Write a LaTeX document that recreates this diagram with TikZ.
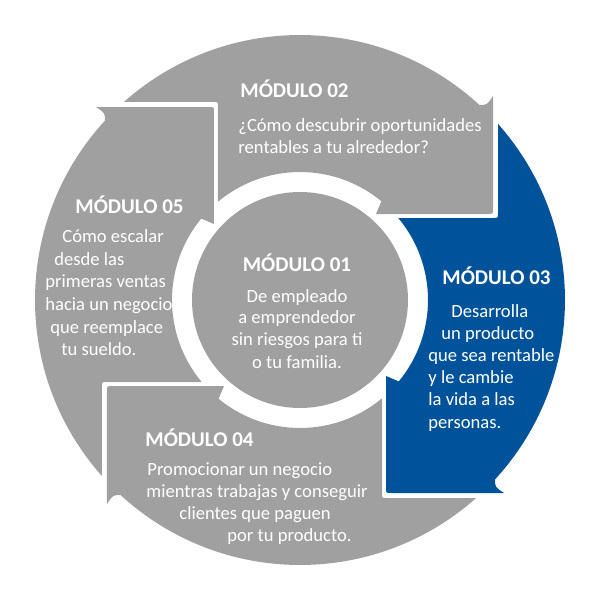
\documentclass[tikz,border=0pt]{standalone}
\usepackage{fontspec}
\setmainfont{Carlito}
\definecolor{seggray}{RGB}{160,160,160}
\definecolor{segblue}{RGB}{0,83,155}
\begin{document}
\begin{tikzpicture}[x=0.5pt,y=0.5pt,
  hd/.style={text=white, font=\bfseries\fontsize{10.5}{12}\selectfont, inner sep=0pt, anchor=base west},
  bd/.style={text=white, font=\fontsize{9.3}{11}\selectfont, inner sep=0pt, anchor=base west},
  bdc/.style={bd, anchor=base},
  hdc/.style={hd, anchor=base}]
\fill[white] (-300,-300) rectangle (300,300);
% ring segments (top one rotated clockwise)
\foreach \ang/\col in {0/seggray,-90/segblue,-180/seggray,-270/seggray}{
  \fill[\col, rotate=\ang]
    (131.65:265) -- (-87,198) .. controls (-82,198) .. (-82,193) -- (-82,98.3)
    arc[start angle=129.83, end angle=50.5, radius=128]
    -- (76,86) -- (188,86) .. controls (193,86) .. (193,91) -- (193,204)
    .. controls (187,195) .. (47.4:265)
    arc[start angle=47.4, end angle=131.65, radius=265] -- cycle;
}
% centre circle
\fill[seggray] (0,0) circle (108);
% Module 01
\node[hdc] (h1) at (-3,29) {MÓDULO 01};
\node[bdc] (t1a) at (-3,-2) {De empleado};
\node[bdc] (t1b) at (-3,-23) {a emprendedor};
\node[bdc] (t1c) at (-3,-45) {sin riesgos para ti};
\node[bdc] (t1d) at (-3,-68) {o tu familia.};
% Module 02
\node[hd] (h2) at (-60,202) {MÓDULO 02};
\node[bd] (t2a) at (-62,169) {¿Cómo descubrir oportunidades};
\node[bd] (t2b) at (-62,147) {rentables a tu alrededor?};
% Module 03
\node[hd] (h3) at (142,16) {MÓDULO 03};
\node[bd] (t3a) at (151,-17) {Desarrolla};
\node[bd] (t3b) at (141,-39.2) {un producto};
\node[bd] (t3c) at (128,-61.4) {que sea rentable};
\node[bd] (t3d) at (128,-83.6) {y le cambie};
\node[bd] (t3e) at (128,-105.8) {la vida a las};
\node[bd] (t3f) at (128,-128) {personas.};
% Module 04
\node[hd] (h4) at (-155,-146) {MÓDULO 04};
\node[bd] (t4a) at (-153,-175) {Promocionar un negocio};
\node[bd] (t4b) at (-154,-197) {mientras trabajas y conseguir};
\node[bd] (t4c) at (-121,-219) {clientes que paguen};
\node[bd] (t4d) at (-73,-241) {por tu producto.};
% Module 05
\node[hd] (h5) at (-225,87) {MÓDULO 05};
\node[bd] (t5a) at (-238,58) {Cómo escalar};
\node[bd] (t5b) at (-246,35) {desde las};
\node[bd] (t5c) at (-255,13) {primeras ventas};
\node[bd] (t5d) at (-255,-10) {hacia un negocio};
\node[bd] (t5e) at (-250,-33) {que reemplace};
\node[bd] (t5f) at (-239,-55) {tu sueldo.};
\end{tikzpicture}
\end{document}
